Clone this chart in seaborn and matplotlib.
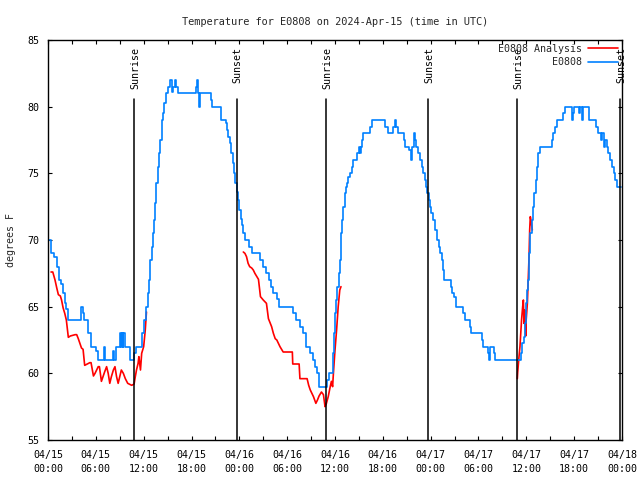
import numpy as np
import pandas as pd
import matplotlib
matplotlib.use("Agg")
import matplotlib.pyplot as plt
import matplotlib.transforms as mtransforms
from matplotlib.lines import Line2D
from matplotlib.ticker import FixedLocator, MultipleLocator
import seaborn as sns

# ---------------- data (hours since 2024-04-15 00:00 UTC, degrees F) ----------------
title = "Temperature for E0808 on 2024-Apr-15 (time in UTC)"
station_label = "E0808"
analysis_label = "E0808 Analysis"

# observed station temperature (step changes: hour, value)
obs_hours = [0.0, 0.4, 0.8, 1.1, 1.4, 1.6, 1.9, 2.1, 2.3, 2.55, 4.1, 4.4, 4.55, 5.05, 5.4,
             6.0, 6.3, 7.05, 7.2, 8.2, 8.3, 8.5, 9.0, 9.15, 9.25, 9.35, 9.45, 9.7, 10.3,
             10.85, 11.0, 11.75, 12.1, 12.3, 12.5, 12.7, 12.85, 13.0, 13.15, 13.3, 13.45,
             13.6, 13.75, 13.95, 14.1, 14.25, 14.4, 14.6, 14.75, 15.0, 15.3, 15.5, 15.7,
             15.9, 16.1, 16.35, 18.55, 18.7, 18.85, 19.0, 19.1, 20.4, 20.6, 21.65, 22.3,
             22.45, 22.6, 22.8, 22.95, 23.15, 23.3, 23.5, 23.65, 23.8, 24.0, 24.15, 24.3,
             24.5, 24.7, 25.25, 25.55, 26.65, 27.0, 27.4, 27.7, 27.95, 28.25, 28.75, 29.0,
             30.75, 31.1, 31.6, 31.95, 32.3, 32.85, 33.2, 33.45, 33.7, 34.0, 35.0, 35.2,
             35.7, 35.9, 36.05, 36.15, 36.3, 36.5, 36.6, 36.75, 36.85, 37.0, 37.2, 37.35,
             37.5, 37.65, 37.85, 38.1, 38.3, 38.8, 39.0, 39.1, 39.3, 39.4, 39.55, 40.4,
             40.6, 42.27, 42.6, 43.3, 43.5, 43.6, 43.85, 44.6, 44.8, 45.3, 45.5, 45.65,
             45.85, 46.0, 46.2, 46.45, 46.7, 46.95, 47.1, 47.3, 47.45, 47.6, 47.8, 47.95,
             48.1, 48.35, 48.5, 48.75, 49.05, 49.2, 49.4, 49.55, 49.7, 50.55, 50.7, 50.9,
             51.15, 52.1, 52.3, 52.9, 53.05, 54.4, 54.6, 55.2, 55.35, 55.5, 55.9, 56.05,
             59.3, 59.45, 59.65, 59.8, 59.95, 60.1, 60.2, 60.35, 60.5, 60.7, 60.85, 61.0,
             61.15, 61.35, 61.5, 61.7, 63.2, 63.4, 63.6, 63.9, 64.65, 64.9, 65.75, 65.85,
             65.95, 66.65, 66.75, 66.95, 67.15, 67.9, 68.8, 69.05, 69.4, 69.55, 69.7,
             69.85, 70.1, 70.3, 70.55, 70.8, 70.95, 71.15, 71.4, 71.9]
obs_temps = [70.0, 69.0, 68.7, 68.0, 67.0, 66.7, 66.0, 65.3, 64.8, 64.0, 65.0, 64.5, 64.0, 63.0, 62.0,
             61.7, 61.0, 62.0, 61.0, 61.7, 61.0, 62.0, 63.0, 62.0, 63.0, 62.0, 63.0, 62.0, 61.0,
             61.5, 62.0, 63.0, 64.0, 65.0, 66.0, 67.0, 68.5, 69.5, 70.5, 71.5, 72.75,
             74.25, 75.5, 76.5, 77.5, 79.0, 79.5, 80.25, 81.0, 81.5, 82.0, 81.1, 81.5,
             82.0, 81.5, 81.0, 81.5, 82.0, 81.0, 80.0, 81.0, 80.5, 80.0, 79.0, 78.75,
             78.25, 77.75, 77.25, 76.5, 75.75, 75.0, 74.25, 73.6, 73.0, 72.25, 71.6, 71.1,
             70.5, 70.0, 69.5, 69.0, 68.5, 68.0, 67.5, 67.0, 66.5, 66.0, 65.6, 65.0,
             64.5, 64.0, 63.5, 63.0, 62.0, 61.5, 61.0, 60.5, 60.0, 59.0, 59.5, 60.0,
             61.5, 63.0, 64.5, 65.5, 66.5, 67.5, 68.5, 70.5, 71.5, 72.5, 73.5, 74.0,
             74.25, 74.75, 75.0, 75.5, 76.0, 76.5, 77.0, 76.5, 77.0, 77.5, 78.0, 78.5,
             79.0, 78.5, 78.0, 78.5, 79.0, 78.5, 78.0, 77.5, 77.0, 76.75, 76.0, 77.0,
             78.0, 77.5, 77.0, 76.5, 76.0, 75.5, 75.0, 74.5, 74.0, 73.5, 73.0, 72.5,
             72.0, 71.5, 70.75, 70.0, 69.5, 69.0, 68.5, 67.75, 67.0, 66.5, 66.0, 65.75,
             65.0, 64.5, 64.0, 63.5, 63.0, 62.5, 62.0, 61.5, 61.0, 62.0, 61.5, 61.0,
             61.5, 62.25, 62.75, 63.75, 65.25, 66.25, 67.0, 69.0, 70.5, 71.5, 72.5, 73.5,
             74.5, 75.5, 76.5, 77.0, 77.5, 78.0, 78.5, 79.0, 79.5, 80.0, 79.0, 79.5,
             80.0, 79.5, 80.0, 79.0, 80.0, 79.0, 78.5, 78.0, 77.5, 78.0, 77.0,
             77.5, 77.0, 76.5, 76.0, 75.5, 75.0, 74.5, 74.0, 74.0]

# analysis temperature, three separate windows
ana1_hours = [0.38, 0.6, 0.88, 1.1, 1.3, 1.55, 1.7, 1.9, 2.1, 2.3, 2.55, 2.8, 3.4, 3.6, 3.8, 4.0,
              4.2, 4.4, 4.6, 5.25, 5.4, 5.7, 5.9, 6.1, 6.3, 6.45, 6.7, 6.9, 7.1, 7.35, 7.55,
              7.75, 7.95, 8.2, 8.4, 8.6, 8.8, 9.0, 9.2, 9.45, 9.7, 10.0, 10.5, 10.8, 10.95,
              11.1, 11.3, 11.4, 11.6, 11.75, 12.0, 12.2, 12.35]
ana1_temps = [67.6, 67.6, 67.0, 66.4, 65.9, 65.8, 65.5, 64.9, 64.5, 64.0, 62.7, 62.8, 62.9, 62.9, 62.6, 62.25,
              61.9, 61.8, 60.6, 60.8, 60.8, 59.8, 60.0, 60.25, 60.5, 60.5, 59.4, 59.75, 60.1, 60.5, 60.0,
              59.25, 59.75, 60.25, 60.5, 59.75, 59.25, 59.75, 60.25, 60.0, 59.6, 59.25, 59.1, 59.2, 59.75,
              60.25, 60.75, 61.25, 60.25, 61.5, 62.0, 63.25, 64.6]
ana2_hours = [24.5, 24.7, 24.9, 25.1, 25.3, 25.55, 25.75, 25.95, 26.2, 26.4, 26.65, 27.0, 27.4, 27.65,
              27.85, 28.05, 28.27, 28.5, 28.7, 28.9, 29.1, 29.5, 30.65, 30.7, 31.5, 31.6, 32.5, 32.7,
              32.9, 33.1, 33.3, 33.6, 33.8, 34.0, 34.3, 34.55, 34.75, 34.9, 35.15, 35.4, 35.55,
              35.7, 35.8, 36.0, 36.2, 36.4, 36.6, 36.75]
ana2_temps = [69.1, 69.0, 68.75, 68.25, 68.0, 67.9, 67.75, 67.5, 67.25, 67.05, 65.75, 65.5, 65.25, 64.1,
              63.8, 63.5, 63.0, 62.6, 62.5, 62.25, 62.0, 61.6, 61.6, 60.7, 60.7, 59.6, 59.6, 59.1,
              58.75, 58.5, 58.25, 57.75, 58.0, 58.3, 58.6, 58.4, 57.5, 57.7, 58.25, 59.0, 59.4,
              59.0, 60.0, 61.75, 63.25, 65.0, 66.25, 66.5]
ana3_hours = [58.87, 58.92, 59.08, 59.2, 59.3, 59.4, 59.54, 59.63, 59.7, 59.8, 59.92, 59.98, 60.13,
              60.25, 60.34, 60.42, 60.5, 60.6, 60.75]
ana3_temps = [59.6, 60.1, 61.25, 62.0, 63.0, 64.0, 65.0, 65.5, 63.75, 64.75, 62.8, 64.0, 65.25,
              67.25, 68.75, 70.75, 71.75, 71.4, 70.75]

sunrise_hours = [10.8, 34.9, 58.85]
sunset_hours = [23.65, 47.7, 71.75]

xtick_hours = list(range(0, 73, 6))
xtick_labels = ["04/15\n00:00", "04/15\n06:00", "04/15\n12:00", "04/15\n18:00",
                "04/16\n00:00", "04/16\n06:00", "04/16\n12:00", "04/16\n18:00",
                "04/17\n00:00", "04/17\n06:00", "04/17\n12:00", "04/17\n18:00",
                "04/18\n00:00"]
ytick_values = [55, 60, 65, 70, 75, 80, 85]

# ---------------- styling ----------------
RED = "#ff0000"
BLUE = "#0080ff"

sns.set_style("ticks")
plt.rcParams['font.family'] = ['DejaVu Sans Mono', 'DejaVu Sans']
plt.rcParams['font.size'] = 7.2
plt.rcParams['axes.linewidth'] = 1.0

fig = plt.figure(figsize=(6.4, 4.8), dpi=100)
ax = fig.add_axes([48 / 640, 40 / 480, 574 / 640, 400 / 480])

ana_df = pd.concat([
    pd.DataFrame({"hour": h, "temp": t, "seg": i})
    for i, (h, t) in enumerate([(ana1_hours, ana1_temps), (ana2_hours, ana2_temps), (ana3_hours, ana3_temps)])
])
obs_df = pd.DataFrame({"hour": obs_hours, "temp": obs_temps})

sns.lineplot(data=ana_df, x="hour", y="temp", units="seg", estimator=None, sort=False,
             color=RED, linewidth=1.2, ax=ax, legend=False)
sns.lineplot(data=obs_df, x="hour", y="temp", estimator=None, sort=False,
             color=BLUE, linewidth=1.2, drawstyle="steps-post", ax=ax, legend=False)

# sunrise / sunset markers
trans = mtransforms.blended_transform_factory(ax.transData, ax.transAxes)
for hrs, name in [(sunrise_hours, "Sunrise"), (sunset_hours, "Sunset")]:
    for h in hrs:
        ax.plot([h, h], [0, 0.8525], transform=trans, color="black", linewidth=1.1, zorder=3)
        ax.text(h + 0.15, 0.9825, name, transform=trans, rotation=90, ha="center", va="top",
                fontsize=7.2, color="black")

ax.set_xlim(0, 72)
ax.set_ylim(55, 85)
ax.xaxis.set_major_locator(FixedLocator(xtick_hours))
ax.set_xticklabels(xtick_labels)
ax.xaxis.set_minor_locator(MultipleLocator(3))
ax.yaxis.set_major_locator(FixedLocator(ytick_values))
ax.set_yticklabels([str(v) for v in ytick_values])
for lbl in ax.get_xticklabels():
    lbl.set_linespacing(1.55)
ax.tick_params(which="both", direction="in", top=True, right=True, length=3, width=0.8,
               colors="black", labelsize=7.2)
ax.tick_params(axis="x", which="major", pad=7)
ax.tick_params(axis="y", which="major", pad=6)
for s in ax.spines.values():
    s.set_visible(True)
    s.set_color("black")

ax.set_xlabel("")
ax.set_ylabel("degrees F", fontsize=7.2)
ax.yaxis.set_label_coords(-0.055, 0.5)
ax.set_title(title, fontsize=7.4, pad=11)

handles = [Line2D([], [], color=RED, linewidth=1.2),
           Line2D([], [], color=BLUE, linewidth=1.2)]
ax.legend(handles, [analysis_label, station_label], loc="upper right", frameon=False,
          markerfirst=False, handlelength=3.0, handletextpad=0.6, labelspacing=0.35,
          borderaxespad=0.2, borderpad=0.2, fontsize=7.2)

fig.savefig("out.png", dpi=100)
